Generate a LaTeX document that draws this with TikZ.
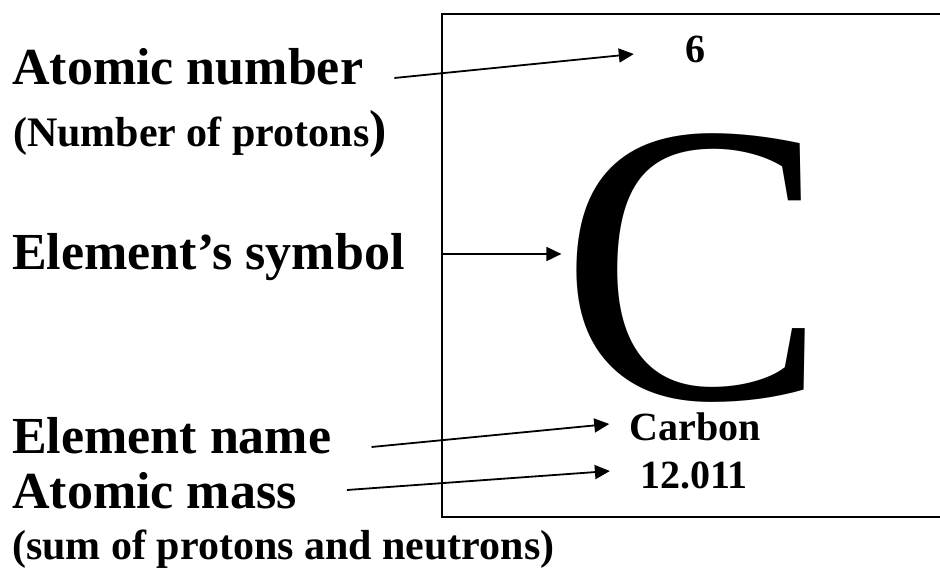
\documentclass[tikz,border=0pt]{standalone}
\usepackage{fontspec}
\setmainfont{Liberation Serif}
\usetikzlibrary{arrows.meta, positioning}
\tikzset{
  label/.style={inner sep=0pt, anchor=base west,
                font=\bfseries\fontsize{52}{60}\selectfont},
  sublabel/.style={inner sep=0pt, anchor=base west,
                   font=\bfseries\fontsize{42}{50}\selectfont},
  entry/.style={inner sep=0pt, anchor=base,
                font=\bfseries\fontsize{40}{48}\selectfont},
  pointer/.style={-{Triangle[length=15pt, width=14pt]}, line width=1.8pt},
}

\begin{document}
\begin{tikzpicture}[x=1pt, y=1pt]
  \useasboundingbox (0,0) rectangle (940,571);
  \clip (0,0) rectangle (940,571);
  % ================= element tile =================
  \draw[line width=2pt] (442,54) rectangle (960,557);
  \node[entry] (six) at (695,508) {6};
  \node[inner sep=0pt, anchor=base, font=\fontsize{400}{400}\selectfont]
    (csym) at (694,172) {C};
  \node[entry] (carbon) at (695,131) {Carbon};
  \node[entry] (mass) at (694,83) {12.011};
  % ================= labels on the left =================
  \node[label] (atnum) at (12,486) {Atomic number};
  \node[sublabel] (atnumsub) at (13,424)
    {(Number of protons{\fontsize{52}{60}\selectfont)}};
  \node[label] (symlabel) at (12,301) {Element’s symbol};
  \node[label] (namelabel) at (12,118) {Element name};
  \node[label] (masslabel) at (12,63) {Atomic mass};
  \node[sublabel] (masssub) at (12,12) {(sum of protons and neutrons)};
  % ================= pointers =================
  \draw[pointer] ([shift={(31,7)}]atnum.base east)
    -- ([shift={(-51,9)}]six.base west);
  \draw[pointer] ([shift={(36,16)}]symlabel.base east)
    -- ([shift={(1,145)}]csym.base west);
  \draw[pointer] ([shift={(40,6)}]namelabel.base east)
    -- ([shift={(-20,16)}]carbon.base west);
  \draw[pointer] ([shift={(50,18)}]masslabel.base east)
    -- ([shift={(-30,17)}]mass.base west);
\end{tikzpicture}
\end{document}
